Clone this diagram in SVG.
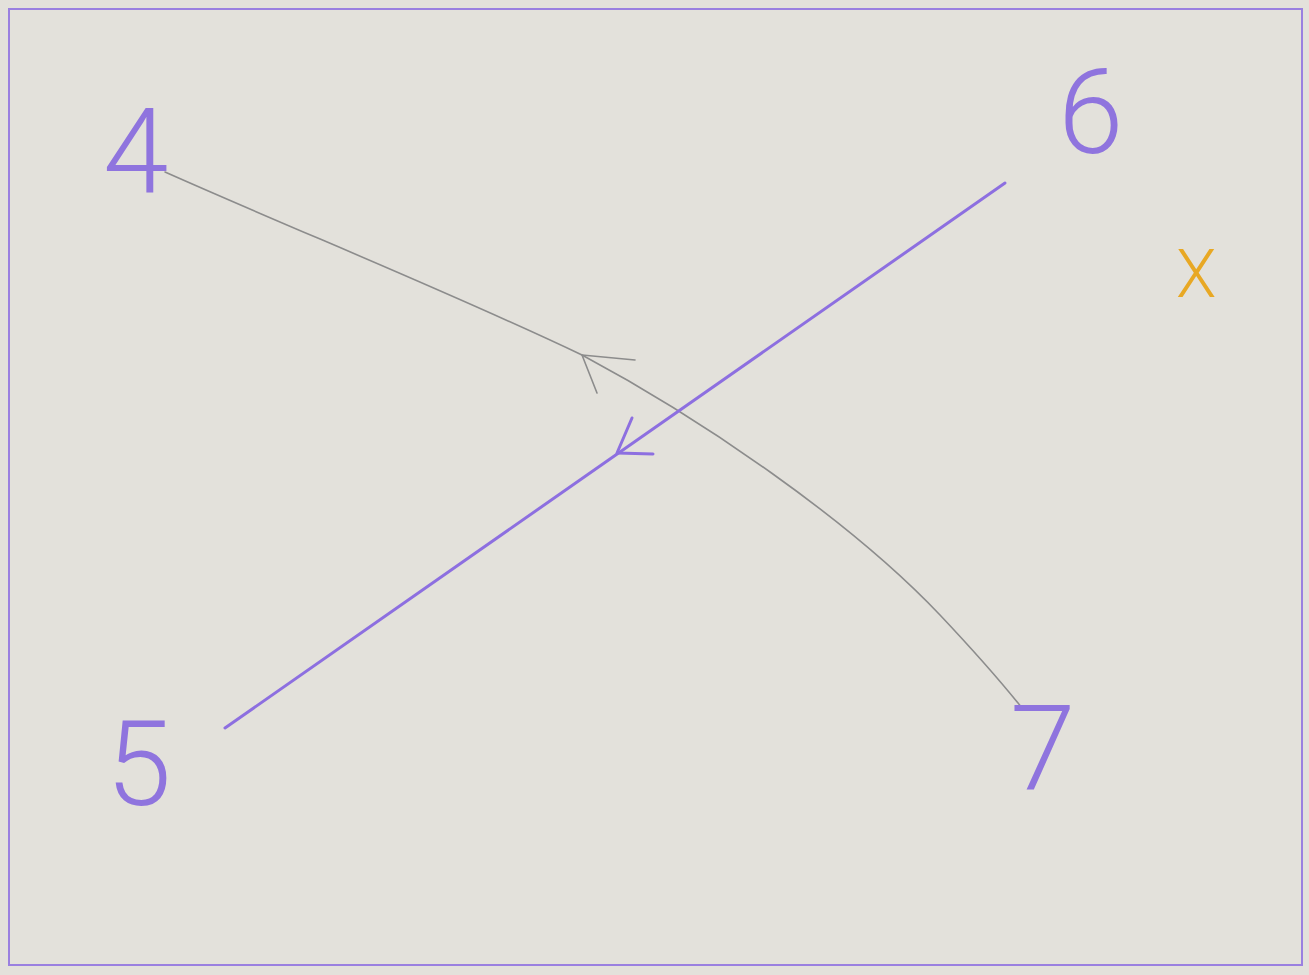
<svg xmlns="http://www.w3.org/2000/svg" width="1309" height="975" viewBox="0 0 1309 975">
<style>
.lbl{font-family:Roboto,"Liberation Sans",sans-serif;font-weight:300;fill:#8f74de;font-size:118px}
.pencil{fill:none;stroke:#8c8c8c;stroke-width:1.6;stroke-linecap:round;stroke-linejoin:round}
.pen{fill:none;stroke:#8d6fe0;stroke-width:3;stroke-linecap:round;stroke-linejoin:round}
</style>
<rect x="0" y="0" width="1309" height="975" fill="#e3e1db"/>
<rect x="9" y="9" width="1293" height="956" fill="none" stroke="#9a80e0" stroke-width="2"/>
<g id="connectors">
<path class="pencil" d="M165,172 C300,232 450,292 582,355 C700,418 850,520 940,615 Q990,668 1022,708"/>
<polyline class="pencil" points="635,360 582,355 597,393"/>
<line class="pen" x1="1005" y1="183" x2="225" y2="728"/>
<polyline class="pen" points="632,418 617,453 653,454"/>
</g>
<g id="node-4"><text class="lbl" x="103" y="192">4</text></g>
<g id="node-6"><text class="lbl" x="1058" y="153" font-size="112">6</text></g>
<g id="node-5"><text class="lbl" x="106" y="805">5</text></g>
<g id="node-7"><text class="lbl" x="1010" y="790" font-size="112">7</text></g>
<g id="mark-x"><text x="1176" y="297" font-family="Roboto,'Liberation Sans',sans-serif" font-weight="300" font-size="66" fill="#e8a824">X</text></g>
</svg>
